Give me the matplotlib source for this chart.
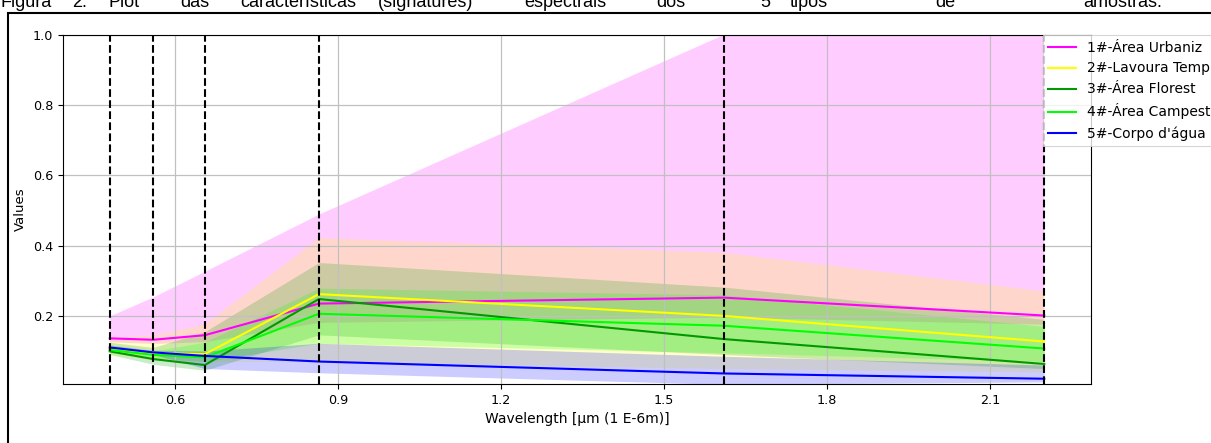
import matplotlib
matplotlib.use("Agg")
import matplotlib.pyplot as plt
from matplotlib.patches import Rectangle

# ---------------- data ----------------
wavelength = [0.48, 0.56, 0.655, 0.865, 1.61, 2.2]
band_lines = [0.48, 0.56, 0.655, 0.865, 1.61, 2.2]

labels = ["1#-Área Urbaniz", "2#-Lavoura Temp", "3#-Área Florest",
          "4#-Área Campest", "5#-Corpo d'água"]
colors = ["#FF00FF", "#FFFF00", "#009a00", "#00FF00", "#0000FF"]

urb_mean = [0.136, 0.132, 0.145, 0.235, 0.252, 0.201]
urb_hi   = [0.198, 0.252, 0.325, 0.488, 1.000, 1.450]
urb_lo   = [0.125, 0.120, 0.125, 0.180, 0.195, 0.175]

lav_mean = [0.105, 0.094, 0.091, 0.262, 0.200, 0.127]
lav_hi   = [0.140, 0.145, 0.177, 0.423, 0.381, 0.271]
lav_lo   = [0.090, 0.075, 0.070, 0.070, 0.050, 0.040]

flo_mean = [0.099, 0.077, 0.060, 0.248, 0.134, 0.063]
flo_hi   = [0.125, 0.110, 0.155, 0.352, 0.282, 0.190]
flo_lo   = [0.090, 0.062, 0.045, 0.146, 0.090, 0.050]

cam_mean = [0.103, 0.089, 0.082, 0.206, 0.172, 0.107]
cam_hi   = [0.115, 0.100, 0.125, 0.279, 0.260, 0.170]
cam_lo   = [0.095, 0.080, 0.070, 0.122, 0.095, 0.070]

agua_mean = [0.110, 0.096, 0.086, 0.070, 0.036, 0.021]
agua_hi   = [0.117, 0.102, 0.100, 0.122, 0.085, 0.060]
agua_lo   = [0.105, 0.090, 0.050, 0.038, 0.005, 0.012]

means = [urb_mean, lav_mean, flo_mean, cam_mean, agua_mean]
his = [urb_hi, lav_hi, flo_hi, cam_hi, agua_hi]
los = [urb_lo, lav_lo, flo_lo, cam_lo, agua_lo]

caption_words = ["Figura", "2.", "Plot", "das", "características", "(signatures)",
                 "espectrais", "dos", "5", "tipos", "de", "amostras."]
caption_x = [0, 72, 108, 180, 240, 378, 524, 656, 760, 790, 935, 1083]

# ---------------- figure ----------------
W, H = 1211, 443
fig = plt.figure(figsize=(W / 100, H / 100), dpi=100)
ax = fig.add_axes([63 / W, 1 - 384 / H, (1091 - 63) / W, (384 - 35) / H])

for m, hi, lo, c, lab in zip(means, his, los, colors, labels):
    ax.fill_between(wavelength, lo, hi, color=c, alpha=0.2, linewidth=0)
    ax.plot(wavelength, m, color=c, lw=1.5, label=lab)

for b in band_lines:
    ax.axvline(b, color="black", ls="--", lw=1.5, zorder=5)

ax.set_xlim(0.394, 2.286)
ax.set_ylim(0.006, 1.0)
ax.set_xticks([0.6, 0.9, 1.2, 1.5, 1.8, 2.1])
ax.set_yticks([0.2, 0.4, 0.6, 0.8, 1.0])
ax.grid(True, color="#c0c0c0", lw=0.9)
ax.tick_params(labelsize=9.2)
ax.set_xlabel("Wavelength [µm (1 E-6m)]", fontsize=10)
ax.set_ylabel("Values", fontsize=9.5)

leg = ax.legend(loc="upper left", bbox_to_anchor=(0.953, 1.0), borderaxespad=0,
                fontsize=10, frameon=True, fancybox=False, edgecolor="#cccccc",
                framealpha=0.8)
leg.get_frame().set_linewidth(0.8)
leg.set_zorder(10)

# document frame and caption
fig.add_artist(Rectangle((8 / W, -0.1), 1.2, 1 - 13 / H + 0.1, transform=fig.transFigure,
                         fill=False, edgecolor="black", lw=1.5))
for w, xp in zip(caption_words, caption_x):
    fig.text(xp / W, 1 - 7 / H, w, fontsize=13, family="Liberation Sans",
             ha="left", va="baseline")

fig.savefig("out.png", dpi=100)
